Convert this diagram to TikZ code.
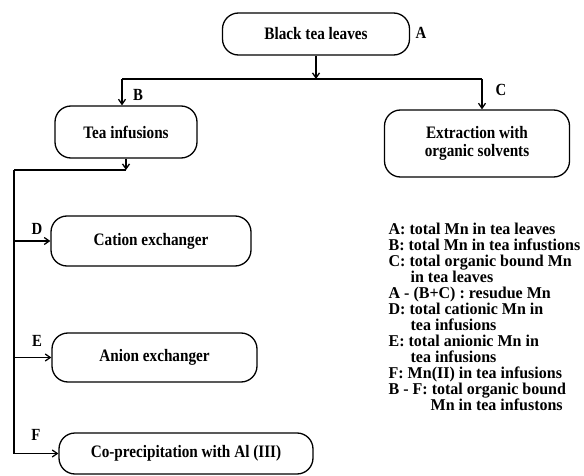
\documentclass[tikz,border=0pt]{standalone}
\usepackage{fontspec}
\setmainfont{Liberation Serif}[FakeStretch=0.87]
\newfontfamily\keyfont{Liberation Serif}[FakeStretch=0.97]
\usetikzlibrary{arrows.meta}
\tikzset{
  >={Straight Barb[length=5pt,width=7pt]},
  every picture/.style={line width=1.3pt},
  % styles
  stage/.style={
    draw,
    rounded corners=16pt,
    font=\fontsize{17.5}{18}\selectfont\bfseries,
    align=center,
    inner sep=2pt,
  },
  tag/.style={
    font=\fontsize{17}{18}\selectfont\bfseries,
    inner sep=0pt,
  },
  legend/.style={
    font=\keyfont\fontsize{16.5}{16}\selectfont\bfseries,
    align=left,
    inner sep=0pt,
  }
}

\begin{document}
\begin{tikzpicture}[x=1pt,y=-1pt]
  \useasboundingbox (0,0) rectangle (584,476);

  % boxes
  \node [stage, minimum width=187pt, minimum height=42pt] (leaves)   at (316,34)    {Black tea leaves};
  \node [stage, minimum width=142pt, minimum height=52pt] (infusion) at (126,132)   {Tea infusions};
  \node [stage, minimum width=185pt, minimum height=67pt] (extract)  at (477,143.5) {Extraction with\\organic solvents};
  \node [stage, minimum width=200pt, minimum height=50pt] (cation)   at (151,241)   {Cation exchanger};
  \node [stage, minimum width=205pt, minimum height=49pt] (anion)    at (154.5,357.5) {Anion exchanger};
  \node [stage, minimum width=254pt, minimum height=41pt] (coprec)   at (186,453.5) {Co-precipitation with Al (III)};

  % branch points
  \coordinate (bl)    at (122,79);
  \coordinate (br)    at (482,79);
  \coordinate (trunk) at (14,170);

  % connectors
  \draw [->] (leaves.south) -- (leaves.south |- bl);
  \draw (bl) -- (br);
  \draw [->] (bl) -- (bl |- infusion.north);
  \draw [->] (br) -- (br |- extract.north);
  \draw [->] (infusion.south) -- (infusion.south |- trunk);
  \draw (infusion.south |- trunk) -- (trunk);
  \draw [->] (trunk) -- (trunk |- coprec.west) -- (coprec.west);
  \draw [->] (trunk |- cation.west) -- (cation.west);
  \draw [->] (trunk |- anion.west) -- (anion.west);

  % letters
  \node [tag] (la) at (421,33)  {A};
  \node [tag] (lb) at (138,95)  {B};
  \node [tag] (lc) at (501,90)  {C};
  \node [tag] (ld) at (37,229)  {D};
  \node [tag] (le) at (37,341)  {E};
  \node [tag] (lf) at (36,435)  {F};

  % key
  \node [legend, anchor=north west] (key) at (388,222) {
    A: total Mn in tea leaves\\
    B: total Mn in tea infustions\\
    C: total organic bound Mn\\
    \hspace{22pt}in tea leaves\\
    A - (B+C) : resudue Mn\\
    D: total cationic Mn in\\
    \hspace{22pt}tea infusions\\
    E: total anionic Mn in\\
    \hspace{22pt}tea infusions\\
    F: Mn(II) in tea infusions\\
    B - F: total organic bound\\
    \hspace{42pt}Mn in tea infustons};
\end{tikzpicture}
\end{document}
